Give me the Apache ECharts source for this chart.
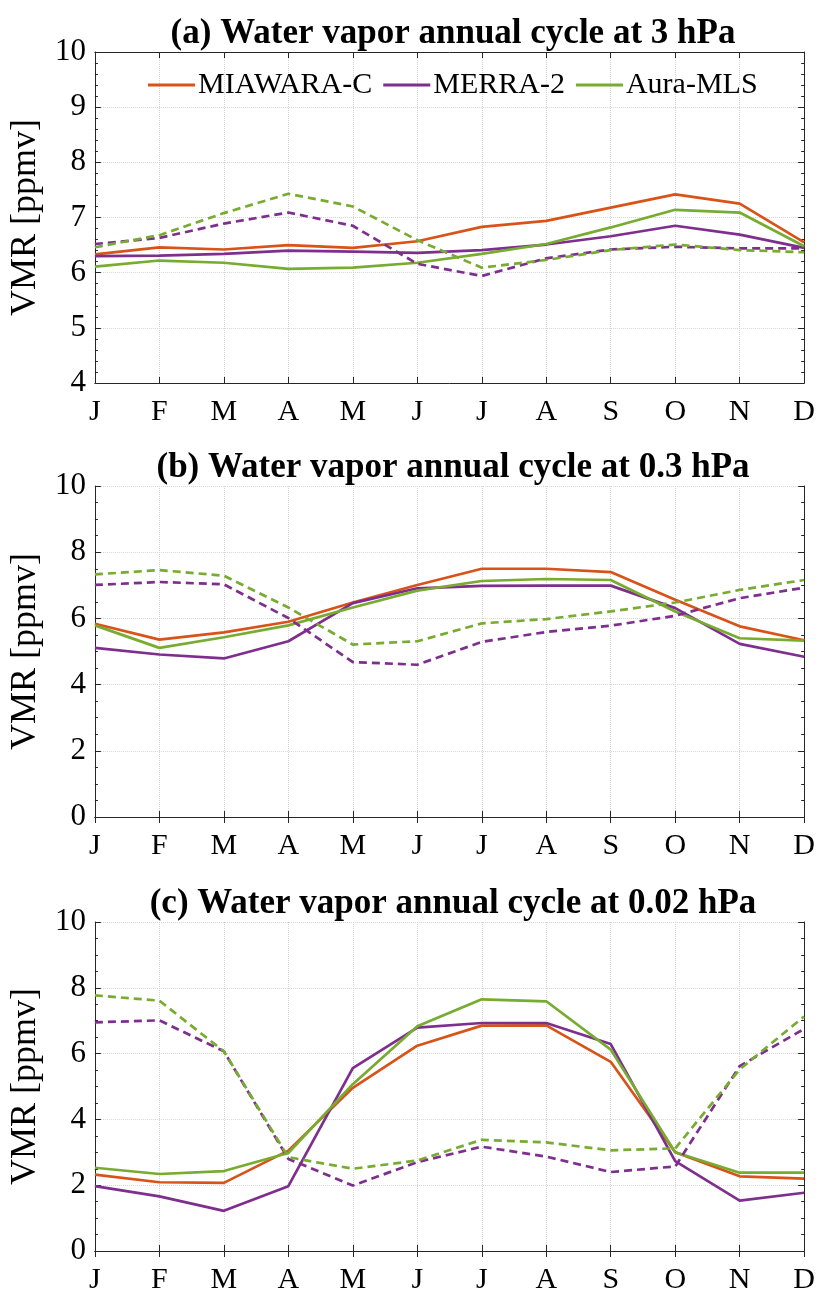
<!DOCTYPE html>
<html><head><meta charset="utf-8">
<script src="https://cdn.jsdelivr.net/npm/echarts@6/dist/echarts.min.js"></script>
<style>html,body{margin:0;padding:0;background:#fff}#c{width:818px;height:1295px}</style>
</head><body><div id="c"></div>
<script>
const months = ['J','F','M','A','M','J','J','A','S','O','N','D'];
const seriesNames = ['MIAWARA-C','MERRA-2','Aura-MLS'];
const panelTitles = ['(a) Water vapor annual cycle at 3 hPa','(b) Water vapor annual cycle at 0.3 hPa','(c) Water vapor annual cycle at 0.02 hPa'];
const yTicks = [[4,10,1],[0,10,2],[0,10,2]];

// Panel (a) 3 hPa
const miawara_3 = [6.33,6.46,6.42,6.50,6.45,6.57,6.83,6.94,7.18,7.42,7.25,6.55];
const merra_3 = [6.30,6.31,6.34,6.40,6.38,6.36,6.41,6.51,6.66,6.85,6.69,6.45];
const mls_3 = [6.11,6.22,6.18,6.07,6.09,6.18,6.34,6.52,6.82,7.14,7.09,6.48];
const merraDash_3 = [6.52,6.63,6.89,7.09,6.85,6.16,5.94,6.26,6.42,6.47,6.44,6.44];
const mlsDash_3 = [6.46,6.68,7.08,7.43,7.20,6.59,6.09,6.23,6.41,6.51,6.41,6.37];

// Panel (b) 0.3 hPa
const miawara_03 = [5.84,5.36,5.58,5.90,6.48,7.01,7.50,7.50,7.40,6.56,5.76,5.34];
const merra_03 = [5.11,4.91,4.79,5.31,6.46,6.91,6.98,6.99,6.99,6.31,5.23,4.84];
const mls_03 = [5.79,5.11,5.43,5.79,6.33,6.84,7.13,7.19,7.16,6.21,5.40,5.33];
const merraDash_03 = [7.01,7.10,7.03,6.01,4.68,4.60,5.29,5.59,5.78,6.08,6.61,6.93];
const mlsDash_03 = [7.33,7.46,7.29,6.33,5.21,5.31,5.85,5.98,6.21,6.48,6.86,7.16];

// Panel (c) 0.02 hPa
const miawara_002 = [2.32,2.09,2.07,3.05,4.96,6.24,6.85,6.86,5.75,3.00,2.27,2.20];
const merra_002 = [1.97,1.66,1.22,1.97,5.56,6.79,6.93,6.93,6.29,2.73,1.53,1.77];
const mls_002 = [2.53,2.34,2.43,2.98,5.07,6.83,7.65,7.59,6.12,3.00,2.38,2.38];
const merraDash_002 = [6.95,7.01,6.07,2.80,1.99,2.70,3.17,2.87,2.40,2.57,5.62,6.75];
const mlsDash_002 = [7.77,7.61,6.07,2.85,2.50,2.75,3.38,3.30,3.06,3.12,5.52,7.13];

const panels = [
  [miawara_3, merra_3, mls_3, merraDash_3, mlsDash_3],
  [miawara_03, merra_03, mls_03, merraDash_03, mlsDash_03],
  [miawara_002, merra_002, mls_002, merraDash_002, mlsDash_002]
];

const colors = ['#D95319','#7E2F8E','#77AC30'];
const FONT = 'Liberation Serif';
const AX = '#262626';
const gridTops = [52, 486, 922];
const gridH = 331;

const grids = [], xAxes = [], yAxes = [], series = [], titles = [];
gridTops.forEach((t, i) => {
  grids.push({left: 92, right: 13, top: t, height: gridH, show: false});
  titles.push({text: panelTitles[i], left: 448, top: t - 41, textAlign: 'center',
    textStyle: {fontFamily: FONT, fontWeight: 'bold', fontSize: 35, color: '#000'}});
  const xBase = {type: 'category', data: months, boundaryGap: false, gridIndex: i};
  xAxes.push(Object.assign({}, xBase, {position: 'bottom',
    axisLine: {show: true, lineStyle: {color: AX, width: 1}},
    axisTick: {show: true, inside: true, length: 6, lineStyle: {color: AX}},
    axisLabel: {fontFamily: FONT, fontSize: 30, color: '#000', margin: 14},
    splitLine: {show: true, lineStyle: {color: '#d4d4d4', type: 'dotted', width: 1}}}));
  xAxes.push(Object.assign({}, xBase, {position: 'top',
    axisLine: {show: true, lineStyle: {color: AX, width: 1}},
    axisTick: {show: true, inside: true, length: 6, lineStyle: {color: AX}},
    axisLabel: {show: false}, splitLine: {show: false}}));
  const [mn, mx, iv] = yTicks[i];
  const yBase = {type: 'value', min: mn, max: mx, interval: iv, gridIndex: i};
  const minor = {show: true, splitNumber: i === 0 ? 5 : 4, length: 3, lineStyle: {color: AX}};
  yAxes.push(Object.assign({}, yBase, {position: 'left',
    name: 'VMR [ppmv]', nameLocation: 'middle', nameGap: 45, nameRotate: 90,
    nameTextStyle: {fontFamily: FONT, fontSize: 36, color: '#000'},
    axisLine: {show: true, lineStyle: {color: AX, width: 1}},
    axisTick: {show: true, inside: true, length: 6, lineStyle: {color: AX}},
    minorTick: minor,
    axisLabel: {fontFamily: FONT, fontSize: 31, color: '#000', margin: 9},
    splitLine: {show: true, lineStyle: {color: '#d4d4d4', type: 'dotted', width: 1}}}));
  yAxes.push(Object.assign({}, yBase, {position: 'right',
    axisLine: {show: true, lineStyle: {color: AX, width: 1}},
    axisTick: {show: true, inside: true, length: 6, lineStyle: {color: AX}},
    minorTick: minor,
    axisLabel: {show: false}, splitLine: {show: false}}));
  const d = panels[i];
  const defs = [
    {name: seriesNames[0], data: d[0], c: 0, dash: false},
    {name: seriesNames[1], data: d[1], c: 1, dash: false},
    {name: seriesNames[2], data: d[2], c: 2, dash: false},
    {name: seriesNames[1] + ' (dashed)', data: d[3], c: 1, dash: true},
    {name: seriesNames[2] + ' (dashed)', data: d[4], c: 2, dash: true}
  ];
  defs.forEach(s => {
    series.push({type: 'line', name: s.name, data: s.data, xAxisIndex: 2 * i, yAxisIndex: 2 * i,
      symbol: 'none', silent: true, color: colors[s.c],
      lineStyle: {color: colors[s.c], width: 2.7, type: s.dash ? [8, 5] : 'solid'}});
  });
});

const chart = echarts.init(document.getElementById('c'), null, {renderer: 'canvas'});
chart.setOption({
  animation: false,
  backgroundColor: '#fff',
  title: titles,
  legend: {data: seriesNames, left: 143, top: 65, icon: 'rect', itemWidth: 47, itemHeight: 3,
    itemGap: 11, textStyle: {fontFamily: FONT, fontSize: 30, color: '#000', padding: [0, 0, 0, -2]}},
  grid: grids, xAxis: xAxes, yAxis: yAxes, series: series
});
</script></body></html>
